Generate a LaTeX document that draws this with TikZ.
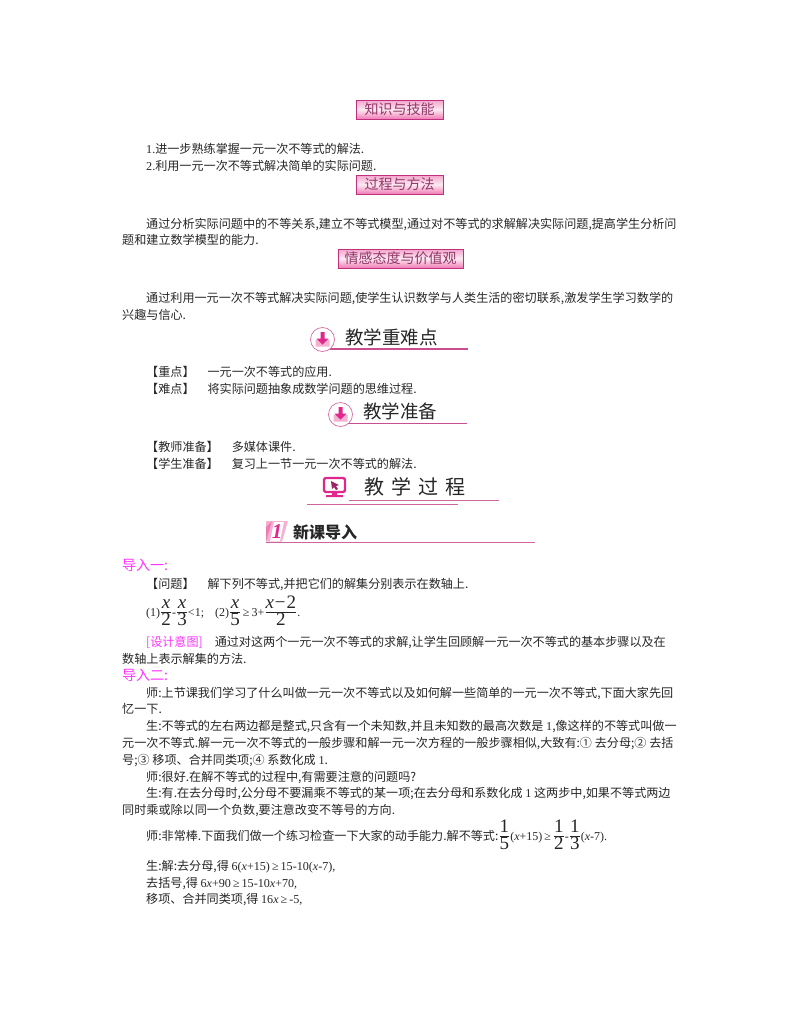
\documentclass[tikz,border=0pt]{standalone}
\usepackage{fontspec}
\setmainfont{Noto Sans CJK SC}
\newfontfamily\latfont{Liberation Serif}
\usetikzlibrary{positioning}
\definecolor{rosedark}{HTML}{C0307F}
\definecolor{rosehot}{HTML}{E0288C}
\definecolor{rosemid}{HTML}{F07CB4}
\definecolor{roselight}{HTML}{FCEAF2}
\definecolor{leadin}{HTML}{FF33FF}
\newcommand{\lat}[1]{{\latfont #1}}
\newcommand{\latsm}[1]{{\latfont\fontsize{12}{14}\selectfont #1}}
\newcommand{\fr}[2]{{\fontsize{19}{21}\selectfont\raisebox{-1pt}{${\textstyle\frac{\raisebox{2pt}{\latfont #1}}{\raisebox{-2pt}{\latfont #2}}}$}}}
\tikzset{
  line/.style = {anchor = base west, inner sep = 0, font = \fontsize{12.1}{14}\selectfont, text = black!85},
  leadline/.style = {line, text = leadin, font = \fontsize{14}{16}\selectfont},
  titlebox/.style = {draw = rosedark, line width = 0.8pt, top color = rosemid!70, bottom color = rosemid, middle color = roselight, inner sep = 0, minimum height = 19, text = rosedark!70!black!90, font = \fontsize{14}{16}\selectfont},
  headline/.style = {anchor = base west, inner sep = 0, font = \fontsize{18.5}{20}\selectfont, text = black!85},
  rule/.style = {rosedark!85, line width = 1.2pt},
  thinrule/.style = {rosedark!75, line width = 0.7pt},
}
\begin{document}
\begin{tikzpicture}[x=1pt,y=-1pt]
  \useasboundingbox (0,0) rectangle (800,1028);
  % title boxes
  \node [titlebox, minimum width = 87] (skills) at (399.5,109.5) {知识与技能};
  \node [titlebox, minimum width = 87] (method) at (399.5,184.5) {过程与方法};
  \node [titlebox, minimum width = 125] (values) at (400.5,258.5) {情感态度与价值观};
  % goals
  \node [line] (goala) at (146,153) {\lat{1.}进一步熟练掌握一元一次不等式的解法.};
  \node [line] (goalb) at (146,170) {\lat{2.}利用一元一次不等式解决简单的实际问题.};
  \node [line] (goalc) at (146,228) {通过分析实际问题中的不等关系,建立不等式模型,通过对不等式的求解解决实际问题,提高学生分析问};
  \node [line] (goald) at (122,244) {题和建立数学模型的能力.};
  \node [line] (goale) at (146,302) {通过利用一元一次不等式解决实际问题,使学生认识数学与人类生活的密切联系,激发学生学习数学的};
  \node [line] (goalf) at (122,319) {兴趣与信心.};
  % heading: key points
  \draw [rule] (330,349) -- (468,349);
  \draw [rosedark!70, fill = white, line width = 0.7pt] (322.5,339.5) circle [radius = 12];
  \fill [rosemid!60] (315.5,339.5) -- (319.5,339.5) -- (322.5,343.5) -- (325.5,339.5) -- (329.5,339.5) -- (329.5,346.5) -- (315.5,346.5) -- cycle;
  \fill [rosehot] (320.5,332) rectangle (324.5,338.5) (316.5,338.5) -- (328.5,338.5) -- (322.5,344.5) -- cycle;
  \node [headline] (keyhead) at (345,344) {教学重难点};
  \node [line] (keya) at (146,376) {【重点】\hspace{13pt}一元一次不等式的应用.};
  \node [line] (keyb) at (146,393) {【难点】\hspace{13pt}将实际问题抽象成数学问题的思维过程.};
  % heading: preparation
  \draw [rule] (348,423.5) -- (467,423.5);
  \draw [rosedark!70, fill = white, line width = 0.7pt] (340.5,414.5) circle [radius = 12];
  \fill [rosemid!60] (333.5,414.5) -- (337.5,414.5) -- (340.5,418.5) -- (343.5,414.5) -- (347.5,414.5) -- (347.5,421.5) -- (333.5,421.5) -- cycle;
  \fill [rosehot] (338.5,407) rectangle (342.5,413.5) (334.5,413.5) -- (346.5,413.5) -- (340.5,419.5) -- cycle;
  \node [headline] (prephead) at (363,418) {教学准备};
  \node [line] (prepa) at (146,451) {【教师准备】\hspace{13pt}多媒体课件.};
  \node [line] (prepb) at (146,468) {【学生准备】\hspace{13pt}复习上一节一元一次不等式的解法.};
  % heading: process
  \draw [rosehot, fill = white, line width = 2.4pt, rounded corners = 1.5pt] (324,478) rectangle (345,492);
  \fill [rosehot] (332,492) rectangle (337,495) (326,495) rectangle (343,497);
  \fill [rosedark!80!black] (331,481) -- (339,485) -- (336,486) -- (338,489) -- (336,490) -- (334,487) -- (332,489) -- cycle;
  \node [headline, font = \fontsize{20}{22}\selectfont] (prochead) at (364.5,494) {教\hspace{7pt}学\hspace{7pt}过\hspace{7pt}程};
  \draw [thinrule] (349,500) -- (499,500);
  \draw [thinrule] (307,504.5) -- (458,504.5);
  % heading: lesson intro
  \draw [thinrule] (266,542) -- (535,542);
  \fill [rosemid!60] (266,521) -- (288,521) -- (282,541.5) -- (266,541.5) -- cycle;
  \fill [rosemid] (266,527) -- (272,521) -- (266,541.5) -- cycle;
  \fill [white] (274,522) -- (284,522) -- (280,541) -- (270,541) -- cycle;
  \node [inner sep = 0, text = rosehot, font = \latfont\fontsize{21}{22}\selectfont\bfseries\itshape] (introno) at (277,531.5) {1};
  \node [headline, font = \fontsize{16}{18}\selectfont\bfseries] (introhead) at (293,538) {新课导入};
  % lead-in one
  \node [leadline] (leada) at (122,570) {导入一:};
  \node [line] (taska) at (146,588) {【问题】\hspace{13pt}解下列不等式,并把它们的解集分别表示在数轴上.};
  \node [line, font = \fontsize{12}{14}\selectfont] (taskb) at (146,616) {\latsm{(1)}\fr{\textit{x}}{2}\latsm{-}\fr{\textit{x}}{3}\latsm{<1;\hspace{11pt}(2)}\fr{\textit{x}}{5}\latsm{\,≥\,3+}\fr{\textit{x}\kern1pt−\kern1pt2}{2}\latsm{.}};
  \node [line] (aima) at (146,646) {\textcolor{leadin}{[设计意图]}\hspace{12pt}通过对这两个一元一次不等式的求解,让学生回顾解一元一次不等式的基本步骤以及在};
  \node [line] (aimb) at (122,663) {数轴上表示解集的方法.};
  % lead-in two
  \node [leadline] (leadb) at (122,680) {导入二:};
  \node [line] (talka) at (146,697) {师:上节课我们学习了什么叫做一元一次不等式以及如何解一些简单的一元一次不等式,下面大家先回};
  \node [line] (talkb) at (122,713) {忆一下.};
  \node [line] (talkc) at (146,730) {生:不等式的左右两边都是整式,只含有一个未知数,并且未知数的最高次数是 \lat{1},像这样的不等式叫做一};
  \node [line] (talkd) at (122,747) {元一次不等式.解一元一次不等式的一般步骤和解一元一次方程的一般步骤相似,大致有:① 去分母;② 去括};
  \node [line] (talke) at (122,764) {号;③ 移项、合并同类项;④ 系数化成 \lat{1}.};
  \node [line] (talkf) at (146,781) {师:很好.在解不等式的过程中,有需要注意的问题吗?};
  \node [line] (talkg) at (146,797) {生:有.在去分母时,公分母不要漏乘不等式的某一项;在去分母和系数化成 \lat{1} 这两步中,如果不等式两边};
  \node [line] (talkh) at (122,814) {同时乘或除以同一个负数,要注意改变不等号的方向.};
  \node [line] (talki) at (146,840) {师:非常棒.下面我们做一个练习检查一下大家的动手能力.解不等式:\fr{1}{5}\latsm{(\textit{x}+15)\,≥\,}\fr{1}{2}\latsm{-}\fr{1}{3}\latsm{(\textit{x}-7).}};
  \node [line] (solva) at (146,870) {生:解:去分母,得 \lat{6(\textit{x}+15)\,≥\,15-10(\textit{x}-7),}};
  \node [line] (solvb) at (146,887) {去括号,得 \lat{6\textit{x}+90\,≥\,15-10\textit{x}+70,}};
  \node [line] (solvc) at (146,903) {移项、合并同类项,得 \lat{16\textit{x}\,≥\,-5,}};
\end{tikzpicture}
\end{document}
